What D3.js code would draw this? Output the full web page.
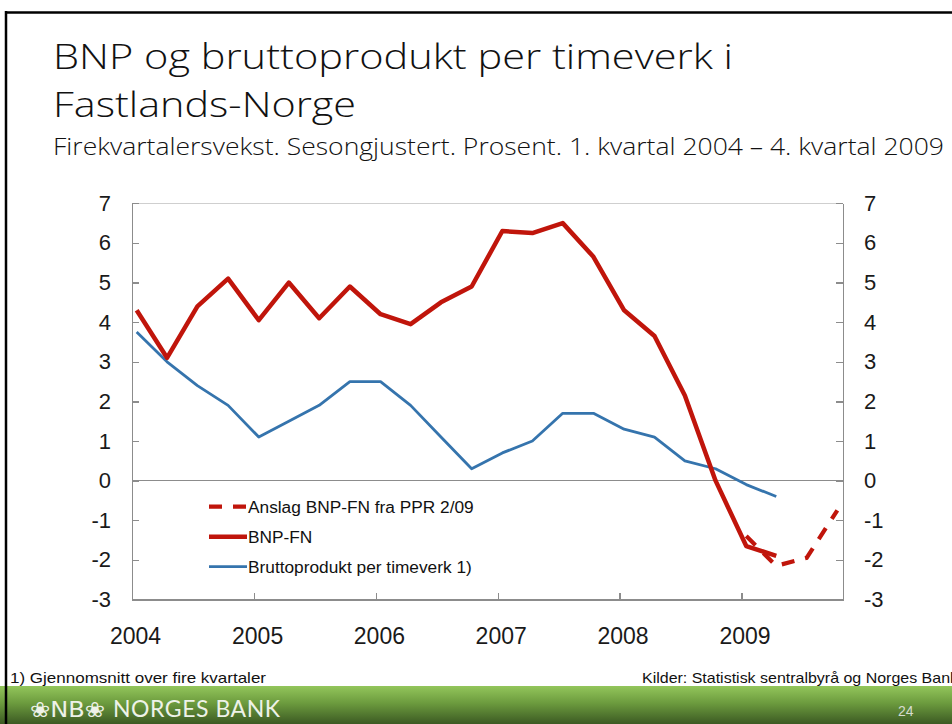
<!DOCTYPE html>
<html>
<head>
<meta charset="utf-8">
<script src="https://cdn.jsdelivr.net/npm/d3@7"></script>
<style>
  html, body { margin: 0; padding: 0; background: #fff; }
  svg { display: block; }
  .axis path, .axis line { stroke: #8c8c8c; stroke-width: 1.3; shape-rendering: crispEdges; }
  .axis text { font-family: "Liberation Sans", Arial, sans-serif; fill: #1a1a1a; }
</style>
</head>
<body>
<div class="chart"></div>
<script>
// quarterly data, 1. kvartal 2004 ->
const startYear = 2004;
const yTicks = [-3, -2, -1, 0, 1, 2, 3, 4, 5, 6, 7];
const legendLabels = ["Anslag BNP-FN fra PPR 2/09", "BNP-FN", "Bruttoprodukt per timeverk 1)"];
const bnpFN = [4.3, 3.1, 4.4, 5.1, 4.05, 5.0, 4.1, 4.9, 4.2, 3.95, 4.5, 4.9,
               6.3, 6.25, 6.5, 5.65, 4.3, 3.65, 2.15, 0.0, -1.65, -1.9];
const bruttoTimeverk = [3.75, 3.0, 2.4, 1.9, 1.1, 1.5, 1.9, 2.5, 2.5, 1.9, 1.1, 0.3,
                        0.7, 1.0, 1.7, 1.7, 1.3, 1.1, 0.5, 0.3, -0.1, -0.4];
// anslag starts at 1. kvartal 2009 (quarter index 20)
const anslagStart = 20;
const anslagPPR = [-1.4, -2.15, -1.95, -0.75];

const W = 952, H = 724;
const red = "#c0150b", blue = "#3574ad";

function qDate(i) {
  const yr = startYear + Math.floor(i / 4);
  return new Date(yr, (i % 4) * 3, 15);
}

const svg = d3.select(".chart").append("svg").attr("width", W).attr("height", H);

// slide frame + footer
const defs = svg.append("defs");
const grad = defs.append("linearGradient").attr("id", "green").attr("x1", 0).attr("x2", 0).attr("y1", 0).attr("y2", 1);
grad.append("stop").attr("offset", "0%").attr("stop-color", "#93c65b");
grad.append("stop").attr("offset", "45%").attr("stop-color", "#6c9b3e");
grad.append("stop").attr("offset", "100%").attr("stop-color", "#3c5a23");

svg.append("rect").attr("x", 0).attr("y", 686).attr("width", W).attr("height", H - 686).attr("fill", "url(#green)");
svg.append("line").attr("x1", 6).attr("x2", W).attr("y1", 12.5).attr("y2", 12.5).attr("stroke", "#000").attr("stroke-width", 2.5);
svg.append("line").attr("x1", 6).attr("x2", 6).attr("y1", 11).attr("y2", H).attr("stroke", "#000").attr("stroke-width", 2.5);

// titles
const titleFont = "'Open Sans', 'Liberation Sans', sans-serif";
svg.append("text").attr("x", 53).attr("y", 69).attr("font-family", titleFont).attr("font-weight", 300)
  .attr("font-size", 34).attr("fill", "#111").attr("textLength", 680).attr("lengthAdjust", "spacingAndGlyphs")
  .text("BNP og bruttoprodukt per timeverk i");
svg.append("text").attr("x", 53).attr("y", 117).attr("font-family", titleFont).attr("font-weight", 300)
  .attr("font-size", 34).attr("fill", "#111").attr("textLength", 303).attr("lengthAdjust", "spacingAndGlyphs")
  .text("Fastlands-Norge");
svg.append("text").attr("x", 53).attr("y", 155).attr("font-family", titleFont).attr("font-weight", 300)
  .attr("font-size", 24).attr("fill", "#111").attr("textLength", 891).attr("lengthAdjust", "spacingAndGlyphs")
  .text("Firekvartalersvekst. Sesongjustert. Prosent. 1. kvartal 2004 \u2013 4. kvartal 2009");

// scales
const x = d3.scaleTime().domain([new Date(2004, 0, 1), new Date(2009, 10, 1)]).range([132, 843]);
const y = d3.scaleLinear().domain([-3, 7]).range([599.5, 203.3]);

// top border
svg.append("line").attr("x1", 132).attr("x2", 843).attr("y1", y(7)).attr("y2", y(7))
  .attr("stroke", "#cfcfcf").attr("stroke-width", 1.3).attr("shape-rendering", "crispEdges");

// axes (plain hyphen for negative numbers, as in the original)
const fmt = d => String(d);
const yLeft = d3.axisLeft(y).tickValues(yTicks).tickFormat(fmt).tickSize(-7).tickSizeOuter(0).tickPadding(21);
const yRight = d3.axisRight(y).tickValues(yTicks).tickFormat(fmt).tickSize(-7).tickSizeOuter(0).tickPadding(21);
const xAxis = d3.axisBottom(x).ticks(d3.timeYear.every(1)).tickSize(-7).tickSizeOuter(0)
  .tickPadding(28).tickFormat(d3.timeFormat("%Y"));

svg.append("g").attr("class", "axis").attr("transform", "translate(132,0)").call(yLeft)
  .selectAll("text").attr("font-size", 22);
svg.append("g").attr("class", "axis").attr("transform", "translate(843,0)").call(yRight)
  .selectAll("text").attr("font-size", 22);
svg.append("g").attr("class", "axis").attr("transform", "translate(0," + y(-3) + ")").call(xAxis)
  .selectAll("text").attr("font-size", 23).attr("dx", 3);

// zero line
svg.append("line").attr("x1", 132).attr("x2", 843).attr("y1", y(0)).attr("y2", y(0))
  .attr("stroke", "#8c8c8c").attr("stroke-width", 1.3).attr("shape-rendering", "crispEdges");

// lines
const line = d3.line().x(d => x(d.date)).y(d => y(d.v));
const bnpData = bnpFN.map((v, i) => ({ date: qDate(i), v: v }));
const btData = bruttoTimeverk.map((v, i) => ({ date: qDate(i), v: v }));
const anData = anslagPPR.map((v, i) => ({ date: qDate(anslagStart + i), v: v }));

svg.append("path").datum(btData).attr("d", line).attr("fill", "none")
  .attr("stroke", blue).attr("stroke-width", 2.8).attr("stroke-linejoin", "round");
svg.append("path").datum(anData).attr("d", line).attr("fill", "none")
  .attr("stroke", red).attr("stroke-width", 4.2).attr("stroke-dasharray", "13,11");
svg.append("path").datum(bnpData).attr("d", line).attr("fill", "none")
  .attr("stroke", red).attr("stroke-width", 4.5).attr("stroke-linejoin", "round");

// legend
const legend = svg.append("g").attr("font-family", "'Liberation Sans', Arial, sans-serif").attr("font-size", 17.3);
const legStyles = [
  { c: red, w: 4.2, dash: "13,11" },
  { c: red, w: 4.5, dash: null },
  { c: blue, w: 2.8, dash: null }
];
legendLabels.forEach((lab, i) => {
  const ly = 506.7 + i * 30;
  const s = legStyles[i];
  legend.append("line").attr("x1", 209).attr("x2", 247).attr("y1", ly).attr("y2", ly)
    .attr("stroke", s.c).attr("stroke-width", s.w).attr("stroke-dasharray", s.dash);
  legend.append("text").attr("x", 248).attr("y", ly).attr("dy", "0.35em").attr("fill", "#111").text(lab);
});

// footnotes
const small = "'Liberation Sans', Arial, sans-serif";
svg.append("text").attr("x", 10).attr("y", 683).attr("font-family", small).attr("font-size", 14.5)
  .attr("fill", "#111").attr("textLength", 256).attr("lengthAdjust", "spacingAndGlyphs")
  .text("1) Gjennomsnitt over fire kvartaler");
svg.append("text").attr("x", 642).attr("y", 683).attr("font-family", small).attr("font-size", 14.5)
  .attr("fill", "#111").attr("textLength", 316).attr("lengthAdjust", "spacingAndGlyphs")
  .text("Kilder: Statistisk sentralbyrå og Norges Bank");

// footer logo and page number
svg.append("text").attr("x", 30).attr("y", 717).attr("font-family", "'DejaVu Sans', sans-serif")
  .attr("font-size", 21).attr("fill", "#eef2e8").attr("textLength", 75).attr("lengthAdjust", "spacingAndGlyphs")
  .text("\u2740NB\u2740");
svg.append("text").attr("x", 113).attr("y", 717).attr("font-family", "'Lato', 'Noto Sans', sans-serif")
  .attr("font-size", 23).attr("fill", "#eef2e8").attr("textLength", 167).attr("lengthAdjust", "spacing")
  .text("NORGES BANK");
svg.append("text").attr("x", 898).attr("y", 716).attr("font-family", small)
  .attr("font-size", 14).attr("fill", "#d6dccf").text("24");
</script>
</body>
</html>
